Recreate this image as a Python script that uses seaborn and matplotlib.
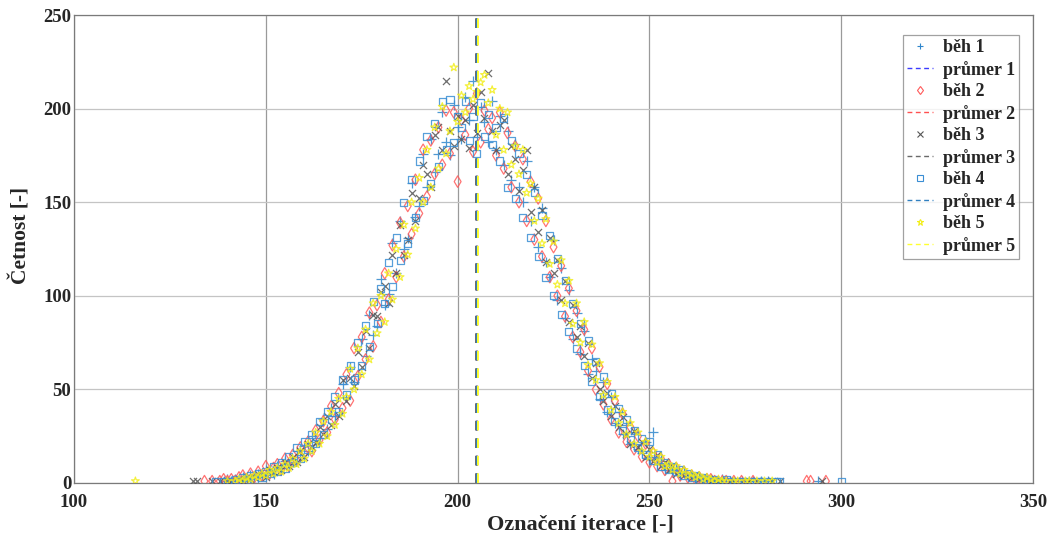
import numpy as np
import pandas as pd
import matplotlib
matplotlib.use("Agg")
import matplotlib.pyplot as plt
import seaborn as sns
from matplotlib.lines import Line2D

# ---------------- data ----------------
RUN_NAMES = ["běh 1", "běh 2", "běh 3", "běh 4", "běh 5"]
MEAN_NAMES = ["průmer 1", "průmer 2", "průmer 3", "průmer 4", "průmer 5"]

RUN1_START = 139
RUN1_COUNTS = [1, 2, 1, 2, 1, 3, 2, 4, 3, 5, 4, 7, 6, 5, 9, 8, 12, 10, 11, 17, 14, 20, 17, 25, 22, 24,
               34, 29, 40, 36, 38, 53, 46, 62, 54, 58, 77, 68, 90, 79, 84, 109, 95, 101, 128, 112, 140,
               125, 131, 160, 142, 148, 176, 158, 184, 166, 176, 198, 182, 175, 202, 190, 184, 206, 194,
               215, 185, 201, 193, 182, 204, 178, 196, 170, 188, 162, 181, 158, 150, 172, 140, 158, 126,
               147, 118, 110, 130, 98, 115, 88, 103, 77, 91, 69, 81, 58, 66, 60, 45, 54, 38, 46, 32, 38,
               26, 31, 21, 27, 18, 16, 22, 13, 27, 10, 12, 7, 10, 6, 7, 4, 6, 3, 4, 2, 3, 1, 2, 2, 1, 1,
               2, 0, 1, 1, 0, 1, 0, 1, 1, 0, 1, 0, 1]
RUN1_EXTRA_X = [294]
RUN1_EXTRA_Y = [1]

RUN2_START = 134
RUN2_COUNTS = [1, 0, 1, 0, 1, 2, 1, 2, 1, 3, 4, 2, 5, 3, 6, 4, 9, 5, 8, 10, 7, 13, 9, 15, 12, 19, 16,
               22, 17, 28, 23, 33, 27, 41, 34, 48, 40, 58, 44, 72, 57, 78, 66, 91, 73, 95, 86, 112, 98,
               127, 110, 139, 121, 148, 133, 162, 144, 178, 153, 183, 165, 190, 170, 199, 176, 198, 161,
               194, 186, 200, 177, 208, 182, 199, 189, 195, 175, 198, 168, 187, 158, 180, 150, 173, 140,
               161, 130, 152, 121, 140, 110, 126, 100, 116, 89, 104, 78, 92, 70, 82, 60, 72, 50, 62, 42,
               53, 34, 44, 27, 37, 22, 30, 18, 25, 14, 21, 11, 16, 9, 13, 7, 10, 1, 8, 4, 6, 3, 4, 2, 3,
               1, 2, 2, 1, 0, 1, 1, 0, 1, 0, 1, 0, 0, 1]
RUN2_EXTRA_X = [291, 292, 296]
RUN2_EXTRA_Y = [1, 1, 1]

RUN3_START = 131
RUN3_COUNTS = [1, 1, 0, 0, 0, 1, 0, 1, 0, 1, 1, 0, 2, 1, 3, 2, 3, 5, 4, 3, 7, 6, 8, 7, 11, 9, 14, 11,
               17, 14, 21, 19, 22, 30, 26, 36, 31, 42, 36, 55, 44, 56, 52, 70, 62, 81, 72, 90, 89, 102,
               105, 96, 122, 112, 138, 122, 130, 155, 140, 152, 170, 165, 158, 186, 190, 178, 215, 188,
               180, 196, 184, 194, 179, 202, 187, 209, 195, 219, 188, 178, 191, 194, 165, 180, 173, 156,
               167, 178, 145, 158, 134, 146, 118, 131, 112, 119, 98, 108, 86, 95, 78, 84, 68, 75, 56, 64,
               50, 44, 48, 36, 41, 30, 35, 26, 21, 28, 19, 22, 14, 18, 12, 15, 9, 11, 7, 9, 5, 7, 4, 5,
               3, 4, 2, 3, 2, 1, 2, 1, 1, 0, 1, 1, 0, 1, 0, 1, 0, 1, 0, 1, 0, 1, 0, 1]
RUN3_EXTRA_X = [295]
RUN3_EXTRA_Y = [1]

RUN4_START = 137
RUN4_COUNTS = [1, 0, 1, 1, 0, 2, 1, 3, 2, 4, 2, 5, 3, 6, 5, 9, 6, 11, 8, 14, 11, 19, 13, 22, 18, 26,
               21, 33, 26, 38, 34, 46, 38, 55, 47, 63, 55, 75, 63, 84, 73, 97, 85, 104, 96, 118, 105,
               131, 119, 150, 128, 162, 142, 172, 151, 185, 160, 192, 169, 204, 178, 205, 182, 196, 190,
               204, 183, 196, 176, 203, 185, 197, 181, 190, 172, 195, 158, 183, 152, 176, 142, 165, 131,
               155, 121, 143, 110, 132, 100, 120, 90, 108, 81, 96, 72, 85, 63, 76, 54, 65, 46, 57, 39,
               48, 33, 40, 28, 34, 23, 28, 19, 24, 15, 22, 12, 15, 9, 11, 7, 9, 6, 7, 4, 5, 3, 4, 2, 3,
               2, 1, 2, 1, 1, 2, 1, 0, 1, 1, 0, 1, 0, 1, 1, 0, 1, 0, 1, 1]
RUN4_EXTRA_X = [300]
RUN4_EXTRA_Y = [1]

RUN5_START = 140
RUN5_COUNTS = [1, 0, 1, 2, 1, 3, 2, 4, 3, 5, 4, 7, 5, 8, 6, 10, 8, 13, 10, 17, 13, 21, 17, 27, 21, 33,
               25, 38, 31, 45, 37, 46, 61, 50, 72, 58, 82, 66, 96, 80, 100, 86, 112, 98, 125, 110, 138,
               122, 150, 136, 163, 150, 178, 158, 190, 168, 201, 176, 188, 222, 193, 207, 198, 212, 205,
               209, 214, 218, 203, 210, 186, 200, 178, 198, 170, 180, 165, 178, 155, 160, 140, 152, 128,
               141, 117, 129, 106, 119, 96, 108, 85, 96, 75, 86, 63, 74, 55, 64, 47, 54, 39, 46, 32, 38,
               26, 32, 21, 27, 17, 22, 14, 17, 11, 14, 9, 10, 7, 9, 5, 7, 4, 5, 3, 4, 2, 3, 2, 1, 2, 1,
               1, 0, 1, 1, 0, 1, 1, 0, 1, 0, 1, 0, 1]
RUN5_EXTRA_X = [116]
RUN5_EXTRA_Y = [1]

MEANS = [204.95, 204.95, 204.9, 204.95, 205.2]

X_TICKS = [100, 150, 200, 250, 300, 350]
Y_TICKS = [0, 50, 100, 150, 200, 250]

# ---------------- build frames ----------------
starts = [RUN1_START, RUN2_START, RUN3_START, RUN4_START, RUN5_START]
counts = [RUN1_COUNTS, RUN2_COUNTS, RUN3_COUNTS, RUN4_COUNTS, RUN5_COUNTS]
extra_x = [RUN1_EXTRA_X, RUN2_EXTRA_X, RUN3_EXTRA_X, RUN4_EXTRA_X, RUN5_EXTRA_X]
extra_y = [RUN1_EXTRA_Y, RUN2_EXTRA_Y, RUN3_EXTRA_Y, RUN4_EXTRA_Y, RUN5_EXTRA_Y]

frames = []
for i in range(5):
    xs = list(range(starts[i], starts[i] + len(counts[i]))) + extra_x[i]
    ys = list(counts[i]) + extra_y[i]
    df = pd.DataFrame({"iterace": xs, "cetnost": ys})
    df = df[df["cetnost"] > 0]
    frames.append(df)

# ---------------- styling ----------------
sns.set_style("white")
plt.rcParams['font.family'] = ['Liberation Serif', 'DejaVu Serif']
plt.rcParams['font.weight'] = 'bold'

RUN_COLORS = ["#2f86cc", "#ff5a5a", "#555555", "#3a8ed4", "#f2ee1a"]
MEAN_COLORS = ["#3b3bff", "#ff5050", "#6a6a6a", "#2f7fc0", "#ffff30"]
MARKERS = ["+", "d", "x", "s", "*"]
SIZES = [42, 34, 26, 26, 34]

fig = plt.figure(figsize=(10.59, 5.42), dpi=100)
ax = fig.add_axes([0.0699, 0.1089, 0.9056, 0.8634])

handles = []
for i in range(5):
    df = frames[i]
    filled = MARKERS[i] in ("+", "x")
    if filled:
        sns.scatterplot(data=df, x="iterace", y="cetnost", ax=ax, marker=MARKERS[i],
                        color=RUN_COLORS[i], s=SIZES[i], linewidth=0.9, alpha=0.85,
                        zorder=3, legend=False)
        h = Line2D([], [], linestyle="none", marker=MARKERS[i], color=RUN_COLORS[i],
                   markersize=4.5, markeredgewidth=0.8)
    else:
        sns.scatterplot(data=df, x="iterace", y="cetnost", ax=ax, marker=MARKERS[i],
                        facecolor="none", edgecolor=RUN_COLORS[i], s=SIZES[i],
                        linewidth=0.9, alpha=0.85, zorder=3, legend=False)
        h = Line2D([], [], linestyle="none", marker=MARKERS[i], markerfacecolor="none",
                   markeredgecolor=RUN_COLORS[i], markersize=4.5, markeredgewidth=0.8)
    handles.append((h, RUN_NAMES[i]))
    ax.axvline(MEANS[i], color=MEAN_COLORS[i], linestyle=(0, (5, 4)), linewidth=1.4, zorder=4)
    lh = Line2D([], [], color=MEAN_COLORS[i], linestyle=(0, (3.5, 2.5)), linewidth=1.0)
    handles.append((lh, MEAN_NAMES[i]))

ax.set_xlim(100, 350)
ax.set_ylim(0, 250)
ax.set_xticks(X_TICKS)
ax.set_yticks(Y_TICKS)
ax.tick_params(axis="both", direction="in", length=5, color="#777777", labelsize=13.5)
ax.tick_params(axis="x", pad=8)
ax.tick_params(axis="y", pad=2)
for lab in ax.get_xticklabels() + ax.get_yticklabels():
    lab.set_fontweight("bold")
    lab.set_color("#262626")

ax.xaxis.grid(True, color="#9a9a9a", linewidth=0.9)
ax.yaxis.grid(True, color="#c4c4c4", linewidth=0.9)
ax.set_axisbelow(True)
for sp in ax.spines.values():
    sp.set_color("#7a7a7a")
    sp.set_linewidth(0.9)

ax.set_xlabel("Označení iterace [-]", fontsize=16, fontweight="bold", color="#262626")
ax.set_ylabel("Četnost [-]", fontsize=15.5, fontweight="bold", color="#262626")
ax.xaxis.set_label_coords(0.528, -0.088)
ax.yaxis.set_label_coords(-0.055, 0.53)
ax.xaxis.label.set_va("center")
ax.yaxis.label.set_va("center")

leg = ax.legend([h for h, _ in handles], [l for _, l in handles], loc="upper right",
                bbox_to_anchor=(0.9855, 0.958), frameon=True, fancybox=False,
                prop={"family": "Liberation Serif", "weight": "bold", "size": 13},
                handlelength=1.4, handletextpad=0.55, labelspacing=0.25,
                borderpad=0.25, borderaxespad=0.0)
leg.get_frame().set_edgecolor("#8a8a8a")
leg.get_frame().set_linewidth(0.9)
leg.set_zorder(10)

fig.savefig("out.png", dpi=100)
